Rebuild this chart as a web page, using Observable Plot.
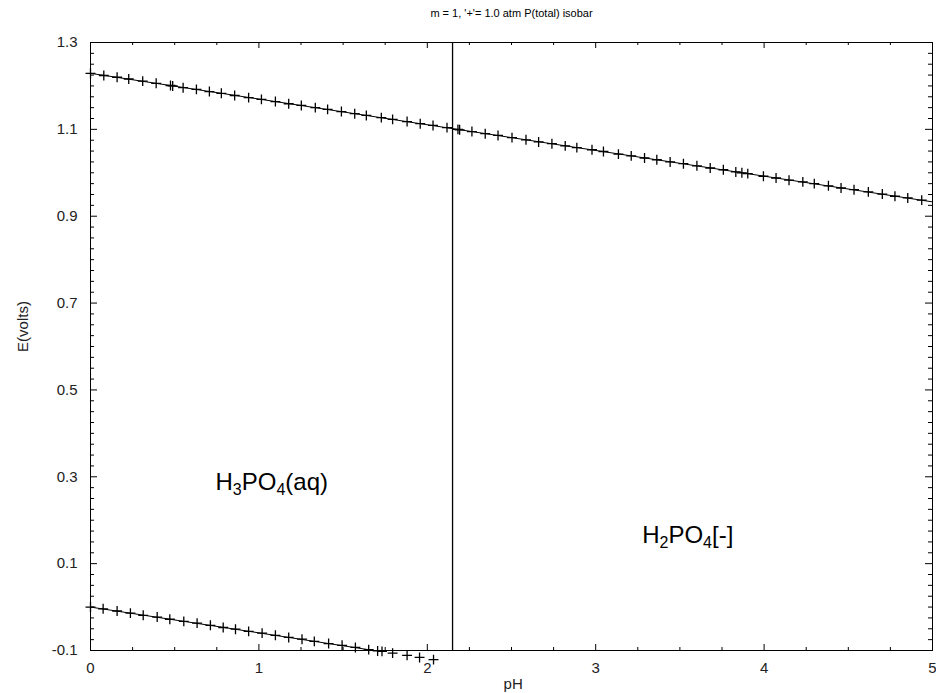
<!DOCTYPE html>
<html><head><meta charset="utf-8">
<script src="https://cdn.jsdelivr.net/npm/d3@7"></script>
<script src="https://cdn.jsdelivr.net/npm/@observablehq/plot@0.6"></script>
<style>body{margin:0;background:#fff;} svg{display:block}</style>
</head><body><div id="chart"></div>
<script>
const title = "m = 1, '+'= 1.0 atm P(total) isobar";
const xLabel = "pH";
const yLabel = "E(volts)";

// O2/H2O and H2O/H2 boundary lines (pH, E)
const upperLinePH = [0, 5];
const upperLineE = [1.229, 0.933];
const lowerLinePH = [0, 2.037];
const lowerLineE = [0.0, -0.121];

// '+' isobar markers
const upperMarkPH = [0, 0.079, 0.158, 0.227, 0.310, 0.390, 0.475, 0.488, 0.550, 0.629, 0.706, 0.777, 0.856, 0.939, 1.015, 1.098, 1.177, 1.252, 1.335, 1.408, 1.490, 1.569, 1.638, 1.727, 1.794, 1.880, 1.958, 2.034, 2.117, 2.182, 2.192, 2.265, 2.344, 2.420, 2.503, 2.586, 2.661, 2.740, 2.819, 2.888, 2.978, 3.046, 3.135, 3.211, 3.290, 3.363, 3.442, 3.521, 3.601, 3.680, 3.758, 3.832, 3.868, 3.903, 3.996, 4.071, 4.148, 4.230, 4.298, 4.382, 4.457, 4.534, 4.619, 4.702, 4.777, 4.853, 4.936];
const upperMarkE = [1.229, 1.224, 1.220, 1.216, 1.211, 1.206, 1.201, 1.200, 1.196, 1.192, 1.187, 1.183, 1.178, 1.173, 1.169, 1.164, 1.159, 1.155, 1.150, 1.146, 1.141, 1.136, 1.132, 1.127, 1.123, 1.118, 1.113, 1.109, 1.104, 1.100, 1.099, 1.095, 1.090, 1.086, 1.081, 1.076, 1.071, 1.067, 1.062, 1.058, 1.053, 1.049, 1.043, 1.039, 1.034, 1.030, 1.025, 1.021, 1.016, 1.011, 1.007, 1.002, 1.000, 0.998, 0.992, 0.988, 0.983, 0.979, 0.975, 0.970, 0.965, 0.961, 0.956, 0.951, 0.946, 0.942, 0.937];
const lowerMarkPH = [0, 0.075, 0.158, 0.237, 0.313, 0.396, 0.471, 0.554, 0.633, 0.712, 0.788, 0.861, 0.939, 1.019, 1.098, 1.177, 1.256, 1.329, 1.414, 1.494, 1.573, 1.652, 1.705, 1.731, 1.794, 1.880, 1.954, 2.037];
const lowerMarkE = [0.000, -0.004, -0.009, -0.014, -0.019, -0.023, -0.028, -0.033, -0.037, -0.042, -0.047, -0.051, -0.056, -0.060, -0.065, -0.070, -0.074, -0.079, -0.084, -0.088, -0.093, -0.098, -0.101, -0.102, -0.106, -0.111, -0.116, -0.121];

// H3PO4 / H2PO4- boundary
const boundaryPH = [2.15];

// region labels (digits become subscripts)
const regionNames = ["H3PO4(aq)", "H2PO4[-]"];
const regionPH = [0.742, 3.276];
const regionE = [0.287, 0.165];

// axis ticks
const xTicks = [0, 1, 2, 3, 4, 5];
const xMinorTicks = [0.25, 0.5, 0.75, 1.25, 1.5, 1.75, 2.25, 2.5, 2.75, 3.25, 3.5, 3.75, 4.25, 4.5, 4.75];
const yTicks = [-0.1, 0.1, 0.3, 0.5, 0.7, 0.9, 1.1, 1.3];
const yMinorTicks = d3.range(0, 57).map(i => +(-0.1 + 0.025 * i).toFixed(3)).filter(v => !yTicks.some(t => Math.abs(t - v) < 1e-9));

const W = 936, H = 693, ML = 90, MR = 4, MT = 42, MB = 43;
const FW = W - ML - MR, FH = H - MT - MB;

const zip = (a, b) => a.map((v, i) => ({x: v, y: b[i]}));
const upperLine = zip(upperLinePH, upperLineE);
const lowerLine = zip(lowerLinePH, lowerLineE);
const upperMarks = zip(upperMarkPH, upperMarkE);
const lowerMarks = zip(lowerMarkPH, lowerMarkE);
const regions = regionNames.map((n, i) => ({name: n, x: regionPH[i], y: regionE[i]}));

const xTick = (data, len, side) => Plot.ruleX(data, {x: d => d, stroke: "black", strokeWidth: 1, [side === "bottom" ? "insetTop" : "insetBottom"]: FH - len});
const yTick = (data, len, side) => Plot.ruleY(data, {y: d => d, stroke: "black", strokeWidth: 1, [side === "left" ? "insetRight" : "insetLeft"]: FW - len});

const chart = Plot.plot({
  width: W,
  height: H,
  marginLeft: ML,
  marginRight: MR,
  marginTop: MT,
  marginBottom: MB,
  style: {fontFamily: "'Liberation Sans', Arial, sans-serif", fontSize: "15px", color: "black", background: "white", overflow: "visible"},
  x: {domain: [0, 5]},
  y: {domain: [-0.1, 1.3]},
  marks: [
    Plot.frame({stroke: "black"}),
    xTick(xTicks, 6, "bottom"),
    xTick(xMinorTicks, 3, "bottom"),
    xTick(xTicks, 6, "top"),
    xTick(xMinorTicks, 3, "top"),
    yTick(yTicks, 7, "left"),
    yTick(yMinorTicks, 4, "left"),
    yTick(yTicks, 7, "right"),
    yTick(yMinorTicks, 4, "right"),
    Plot.axisX(xTicks, {anchor: "bottom", tickSize: 0, tickPadding: 12, tickFormat: d => String(d), label: null, fontSize: 15, fill: "#222"}),
    Plot.axisY(yTicks, {anchor: "left", tickSize: 0, tickPadding: 13, tickFormat: d => d.toFixed(1), label: null, fontSize: 15, fill: "#222"}),
    Plot.ruleX(boundaryPH, {stroke: "black", strokeWidth: 1.3}),
    Plot.line(upperLine, {x: "x", y: "y", stroke: "black", strokeWidth: 1}),
    Plot.line(lowerLine, {x: "x", y: "y", stroke: "black", strokeWidth: 1, clip: true}),
    Plot.dot(upperMarks, {x: "x", y: "y", symbol: "plus", r: 3.3, stroke: "black", strokeWidth: 1.3}),
    Plot.dot(lowerMarks, {x: "x", y: "y", symbol: "plus", r: 3.3, stroke: "black", strokeWidth: 1.3}),
    Plot.text(regions, {x: "x", y: "y", text: "name", textAnchor: "start", fontSize: 24, fill: "black"}),
    Plot.text([title], {frameAnchor: "top", lineAnchor: "middle", dy: -29, fontSize: 11, fill: "black"}),
    Plot.text([xLabel], {frameAnchor: "bottom", x: () => 2.51, lineAnchor: "middle", dy: 34, fontSize: 15, fill: "#222"}),
    Plot.text([yLabel], {frameAnchor: "left", y: () => 0.646, dx: -67, rotate: -90, textAnchor: "middle", lineAnchor: "middle", fontSize: 15, fill: "#222"})
  ]
});

// turn the digits of the region labels into subscripts (still real text)
d3.select(chart).selectAll("text").each(function () {
  const t = this.textContent;
  if (!regionNames.includes(t)) return;
  const el = d3.select(this);
  el.text(null);
  let shifted = false;
  t.split(/(\d)/).filter(s => s.length).forEach(s => {
    if (/^\d$/.test(s)) {
      el.append("tspan").attr("font-size", 16).attr("dy", 5).text(s);
      shifted = true;
    } else {
      const sp = el.append("tspan").text(s);
      if (shifted) { sp.attr("dy", -5); shifted = false; }
    }
  });
});

document.getElementById("chart").appendChild(chart);
</script>
</body></html>
